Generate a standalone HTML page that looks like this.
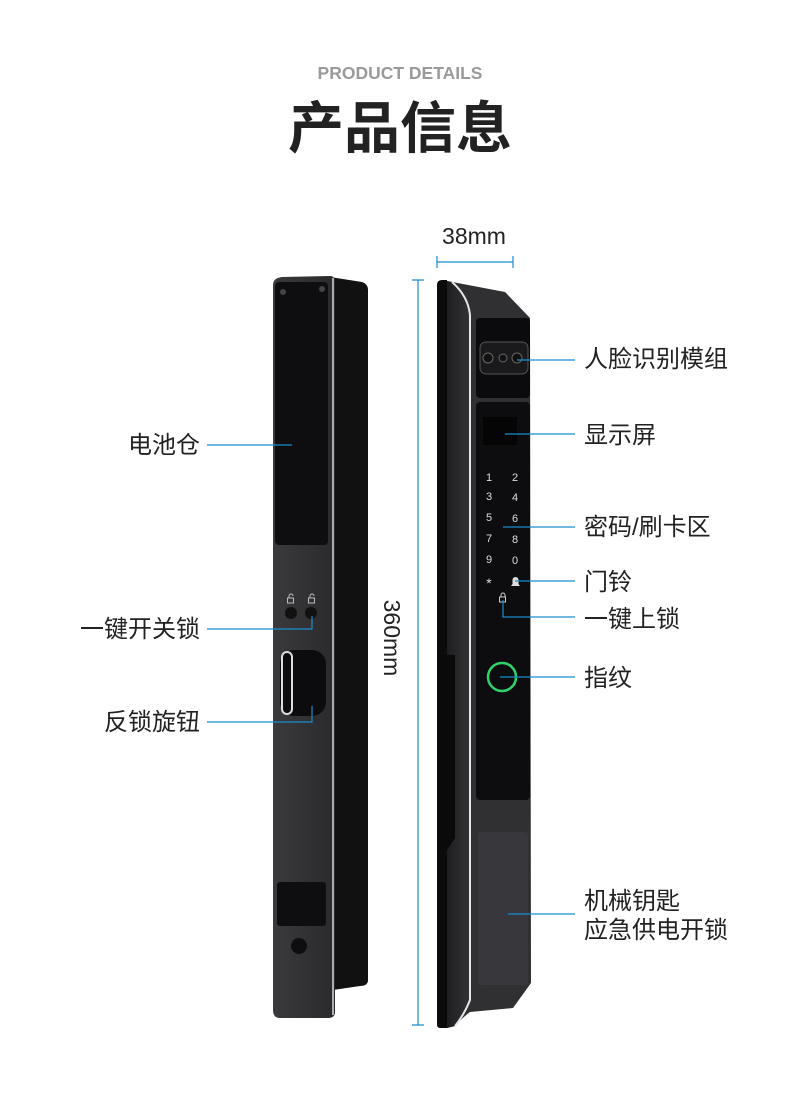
<!DOCTYPE html>
<html><head><meta charset="utf-8"><style>
body{margin:0;width:800px;height:1101px;background:#fff;overflow:hidden;font-family:"Liberation Sans","Noto Sans CJK SC",sans-serif}
svg{position:absolute;left:0;top:0}
</style></head><body>
<svg width="800" height="1101" viewBox="0 0 800 1101">
<defs>
<linearGradient id="fg" x1="0" x2="1"><stop offset="0" stop-color="#3a3a3d"/><stop offset="1" stop-color="#2a2a2c"/></linearGradient>
<linearGradient id="sg" x1="0" x2="1"><stop offset="0" stop-color="#1e1e20"/><stop offset="1" stop-color="#333336"/></linearGradient>
</defs>
<text x="400" y="79" text-anchor="middle" font-size="17.5" font-weight="bold" fill="#9a9a9a">PRODUCT DETAILS</text>
<text x="400" y="148" text-anchor="middle" font-size="56" font-weight="bold" fill="#222" font-family="Noto Sans CJK SC,sans-serif">产品信息</text>

<!-- left lock -->
<path d="M330 277 L362 282 Q368 284 368 290 L368 980 Q368 986 360 986 L333 990 Z" fill="#111"/>
<path d="M273 285 Q273 278 282 277 L330 276 Q335 276 335 282 L335 1012 Q335 1018 328 1018 L280 1018 Q273 1018 273 1010 Z" fill="url(#fg)"/>
<path d="M333 278 L333 1015" stroke="#d8d8d8" stroke-width="1.5"/>
<rect x="275" y="282" width="53" height="263" rx="4" fill="#0e0e10"/>
<circle cx="283" cy="292" r="3" fill="#444"/><circle cx="322" cy="289" r="3" fill="#444"/>
<g fill="none" stroke="#bbb" stroke-width="1"><rect x="287.5" y="598" width="6" height="5"/><path d="M289 598 v-2 a2 2 0 0 1 4 0"/><rect x="308.5" y="598" width="6" height="5"/><path d="M310 598 v-2 a2 2 0 0 1 4 0"/></g>
<circle cx="291" cy="613" r="6" fill="#111"/><circle cx="311" cy="613" r="6" fill="#111"/>
<rect x="280" y="650" width="46" height="66" rx="14" fill="#0c0c0e"/>
<rect x="282" y="652" width="10" height="62" rx="5" fill="none" stroke="#ddd" stroke-width="2"/>
<rect x="277" y="882" width="49" height="44" rx="3" fill="#0e0e10"/>
<circle cx="299" cy="946" r="8" fill="#0e0e10"/>

<!-- right lock -->
<path d="M437 285 Q437 280 442 280 L447 280 L447 1028 L440 1028 Q437 1028 437 1024 Z" fill="#0b0b0c"/>
<path d="M447 281 L505 292 L530 318 L531 983 L513 1008 L470 1012 Q462 1018 455 1026 L447 1028 Z" fill="#303033"/>
<path d="M447 281 L452 282 Q468 296 470 315 L470 1000 Q464 1015 455 1026 L447 1028 Z" fill="url(#sg)"/>
<path d="M452 282 Q468 296 470 315 L470 1000 Q464 1015 455 1026" stroke="#e6e6e6" stroke-width="2" fill="none"/>
<path d="M441 655 L455 655 L455 838 L447 850 L441 840 Z" fill="#0a0a0a"/>
<rect x="476" y="318" width="54" height="80" rx="4" fill="#0b0b0d"/>
<rect x="480" y="342" width="48" height="32" rx="6" fill="#1a1a1c" stroke="#555" stroke-width="1"/>
<circle cx="488" cy="358" r="5" fill="#111" stroke="#666"/><circle cx="503" cy="358" r="4" fill="#111" stroke="#666"/><circle cx="517" cy="358" r="5" fill="#111" stroke="#666"/>
<rect x="476" y="402" width="54" height="398" rx="4" fill="#0d0d0f"/>
<rect x="483" y="417" width="34" height="28" fill="#050505"/>
<g fill="#ddd" font-size="11" text-anchor="middle">
<text x="489" y="481">1</text><text x="515" y="481">2</text>
<text x="489" y="500">3</text><text x="515" y="501">4</text>
<text x="489" y="521">5</text><text x="515" y="522">6</text>
<text x="489" y="542">7</text><text x="515" y="543">8</text>
<text x="489" y="563">9</text><text x="515" y="564">0</text>
<text x="489" y="588" font-size="14">*</text>
</g>
<path d="M511 586 h9 l-1.5 -2 v-4 a3 3 0 0 0 -6 0 v4 Z" fill="#ddd"/>
<g fill="none" stroke="#ccc" stroke-width="1"><rect x="499.5" y="597" width="6" height="5"/><path d="M501 597 v-2 a2 2 0 0 1 4 0 v2"/></g>
<circle cx="502" cy="677" r="14" fill="#0d0d0f" stroke="#2fd36a" stroke-width="2.5"/>
<rect x="478" y="832" width="50" height="153" rx="3" fill="#38383c"/>

<!-- dimension lines -->
<g stroke="#1a8ccf" stroke-width="1.2" fill="none">
<path d="M437 262 H513 M437 256 V268 M513 256 V268"/>
<path d="M418 280 V1025 M412 280 H424 M412 1025 H424"/>
<path d="M207 445 H292"/>
<path d="M207 629 H312 V616"/>
<path d="M207 722 H312 V706"/>
<path d="M517 360 H575"/>
<path d="M505 434 H575"/>
<path d="M503 527 H575"/>
<path d="M515 581 H575"/>
<path d="M503 600 V617 H575"/>
<path d="M500 677 H575"/>
<path d="M508 914 H575"/>
</g>
<g font-size="24" fill="#222">
<text x="474" y="244" text-anchor="middle" font-size="23">38mm</text>
<text x="392" y="638" text-anchor="middle" transform="rotate(90 392 638)" dy="8" font-size="23">360mm</text>
<g text-anchor="end">
<text x="200" y="453">电池仓</text>
<text x="200" y="637">一键开关锁</text>
<text x="200" y="730">反锁旋钮</text>
</g>
<text x="584" y="367">人脸识别模组</text>
<text x="584" y="443">显示屏</text>
<text x="584" y="535">密码/刷卡区</text>
<text x="584" y="590">门铃</text>
<text x="584" y="627">一键上锁</text>
<text x="584" y="686">指纹</text>
<text x="584" y="909">机械钥匙</text>
<text x="584" y="938">应急供电开锁</text>
</g>
</svg>
</body></html>
